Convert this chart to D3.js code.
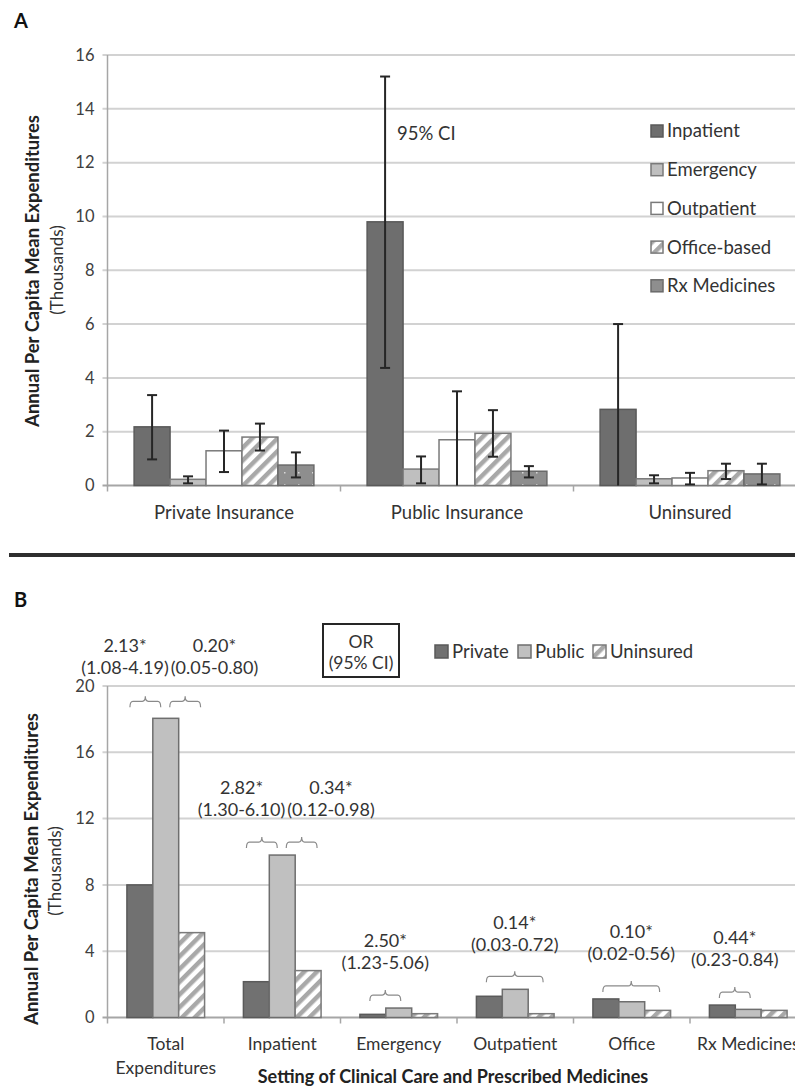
<!DOCTYPE html>
<html>
<head>
<meta charset="utf-8">
<script src="https://cdn.jsdelivr.net/npm/d3@7"></script>
<style>
  body { margin: 0; background: #fff; overflow: hidden; }
  svg { display: block; font-family: Lato, "Open Sans", sans-serif; }
</style>
</head>
<body>
<svg id="chart" width="795" height="1086"></svg>
<script>
// ---- panel A data (thousands) ----
const groupsA = ["Private Insurance", "Public Insurance", "Uninsured"];
const settingsA = ["Inpatient", "Emergency", "Outpatient", "Office-based", "Rx Medicines"];
const privateMean = [2.18, 0.23, 1.29, 1.80, 0.76];
const privateLow  = [0.97, 0.08, 0.50, 1.30, 0.30];
const privateHigh = [3.36, 0.34, 2.04, 2.30, 1.23];
const publicMean  = [9.80, 0.61, 1.70, 1.94, 0.53];
const publicLow   = [4.37, 0.08, 0.00, 1.07, 0.30];
const publicHigh  = [15.2, 1.08, 3.50, 2.80, 0.72];
const uninsMean   = [2.83, 0.25, 0.28, 0.55, 0.43];
const uninsLow    = [0.00, 0.08, 0.04, 0.24, 0.04];
const uninsHigh   = [6.00, 0.38, 0.47, 0.81, 0.81];
const ticksA = [0, 2, 4, 6, 8, 10, 12, 14, 16];

// ---- panel B data (thousands) ----
const catsB = ["Total Expenditures", "Inpatient", "Emergency", "Outpatient", "Office", "Rx Medicines"];
const seriesB = ["Private", "Public", "Uninsured"];
const privateB = [8.00, 2.16, 0.19, 1.28, 1.12, 0.75];
const publicB = [18.05, 9.80, 0.57, 1.70, 0.95, 0.49];
const uninsuredB = [5.12, 2.83, 0.23, 0.23, 0.43, 0.43];
const ticksB = [0, 4, 8, 12, 16, 20];

// odds ratio annotations
const orCategory = [0, 0, 1, 1, 2, 3, 4, 5];
const orFrom = [0, 1, 0, 1, 0, 0, 0, 0];
const orTo = [1, 2, 1, 2, 1, 2, 2, 1];
const orValue = ["2.13*", "0.20*", "2.82*", "0.34*", "2.50*", "0.14*", "0.10*", "0.44*"];
const orCI = ["(1.08-4.19)", "(0.05-0.80)", "(1.30-6.10)", "(0.12-0.98)", "(1.23-5.06)",
              "(0.03-0.72)", "(0.02-0.56)", "(0.23-0.84)"];

const svg = d3.select("#chart");
const defs = svg.append("defs");

// hatch pattern (office-based / uninsured)
const hatch = defs.append("pattern").attr("id", "hatch")
  .attr("patternUnits", "userSpaceOnUse").attr("width", 9).attr("height", 9)
  .attr("patternTransform", "rotate(45)");
hatch.append("rect").attr("width", 9).attr("height", 9).attr("fill", "#fff");
hatch.append("rect").attr("width", 4.5).attr("height", 9).attr("fill", "#a8a8a8");

// dotted pattern (rx medicines)
const dots = defs.append("pattern").attr("id", "dots")
  .attr("patternUnits", "userSpaceOnUse").attr("width", 14).attr("height", 12);
dots.append("rect").attr("width", 14).attr("height", 12).attr("fill", "#8e8e8e");
dots.append("rect").attr("x", 4).attr("y", 4).attr("width", 1.5).attr("height", 1.5).attr("fill", "#d8d8d8");

const fillA = ["#6e6e6e", "#bfbfbf", "#ffffff", "url(#hatch)", "url(#dots)"];
const strokeA = ["#5a5a5a", "#7a7a7a", "#7a7a7a", "#7a7a7a", "#6a6a6a"];
const fillB = ["#717171", "#c0c0c0", "url(#hatch)"];
const strokeB = ["#5a5a5a", "#6e6e6e", "#7a7a7a"];

const left = 107.5, right = 806.5;

function drawFrame(y, ticks, x0, zeroY, topY) {
  // gridlines
  svg.append("g").selectAll("line").data(ticks.filter(d => d > 0)).enter().append("line")
    .attr("x1", left - 5).attr("x2", 795)
    .attr("y1", d => y(d)).attr("y2", d => y(d))
    .attr("stroke", "#d2d2d2").attr("stroke-width", 2);
  // y axis
  svg.append("line").attr("x1", left).attr("x2", left).attr("y1", topY).attr("y2", zeroY + 1)
    .attr("stroke", "#a6a6a6").attr("stroke-width", 1.5);
  svg.append("g").selectAll("text").data(ticks).enter().append("text")
    .attr("x", left - 13).attr("y", d => y(d)).attr("dy", "0.35em")
    .attr("text-anchor", "end").attr("font-size", 16.5).attr("fill", "#404040")
    .text(d => d);
  // x axis
  svg.append("line").attr("x1", left - 5).attr("x2", 795).attr("y1", zeroY).attr("y2", zeroY)
    .attr("stroke", "#a6a6a6").attr("stroke-width", 2);
  const bounds = x0.domain().map(d => x0(d)).concat([right]);
  svg.append("g").selectAll("line").data(bounds).enter().append("line")
    .attr("x1", d => d).attr("x2", d => d).attr("y1", zeroY).attr("y2", zeroY + 6)
    .attr("stroke", "#a6a6a6").attr("stroke-width", 1.5);
}

// ================= PANEL A =================
const yA = d3.scaleLinear().domain([0, 16]).range([485.5, 55]);
const x0A = d3.scaleBand().domain(groupsA).range([left, right]);
const x1A = d3.scaleBand().domain(settingsA).range([0, x0A.bandwidth()]).paddingOuter(0.74);

drawFrame(yA, ticksA, x0A, yA(0), yA(16));

const meansA = [privateMean, publicMean, uninsMean];
const lowsA = [privateLow, publicLow, uninsLow];
const highsA = [privateHigh, publicHigh, uninsHigh];
const rowsA = [];
groupsA.forEach((g, gi) => settingsA.forEach((s, si) => rowsA.push({
  g, s, si, v: meansA[gi][si], lo: lowsA[gi][si], hi: highsA[gi][si]
})));

svg.append("g").selectAll("rect").data(rowsA).enter().append("rect")
  .attr("x", d => x0A(d.g) + x1A(d.s))
  .attr("y", d => yA(d.v))
  .attr("width", x1A.bandwidth())
  .attr("height", d => yA(0) - yA(d.v))
  .attr("fill", d => fillA[d.si]).attr("stroke", d => strokeA[d.si]).attr("stroke-width", 1.5);

const err = svg.append("g").attr("stroke", "#262626").attr("stroke-width", 2);
rowsA.forEach(d => {
  const cx = x0A(d.g) + x1A(d.s) + x1A.bandwidth() / 2;
  err.append("line").attr("x1", cx).attr("x2", cx).attr("y1", yA(d.hi)).attr("y2", yA(d.lo));
  err.append("line").attr("x1", cx - 5).attr("x2", cx + 5).attr("y1", yA(d.hi)).attr("y2", yA(d.hi));
  if (d.lo > 0) err.append("line").attr("x1", cx - 5).attr("x2", cx + 5).attr("y1", yA(d.lo)).attr("y2", yA(d.lo));
});

svg.append("g").selectAll("text").data(groupsA).enter().append("text")
  .attr("x", d => x0A(d) + x0A.bandwidth() / 2).attr("y", yA(0) + 27).attr("dy", "0.35em")
  .attr("text-anchor", "middle").attr("font-size", 18.5).attr("fill", "#333")
  .text(d => d);

svg.append("text").attr("x", 397).attr("y", 134).attr("dy", "0.35em")
  .attr("font-size", 18.5).attr("fill", "#333").text("95% CI");

// legend A
const legA = svg.append("g");
settingsA.forEach((s, i) => {
  const cy = 131 + i * 38.7;
  legA.append("rect").attr("x", 651).attr("y", cy - 6).attr("width", 12).attr("height", 12)
    .attr("fill", fillA[i]).attr("stroke", strokeA[i]).attr("stroke-width", 1.5);
  legA.append("text").attr("x", 667).attr("y", cy).attr("dy", "0.35em")
    .attr("font-size", 18.5).attr("fill", "#333").text(s);
});

svg.append("text").attr("transform", "translate(33,271) rotate(-90)").attr("dy", "0.35em")
  .attr("text-anchor", "middle").attr("font-size", 18.5).attr("font-weight", "bold").attr("fill", "#222")
  .text("Annual Per Capita Mean Expenditures");
svg.append("text").attr("transform", "translate(57,270) rotate(-90)").attr("dy", "0.35em")
  .attr("text-anchor", "middle").attr("font-size", 17).attr("fill", "#333")
  .text("(Thousands)");

svg.append("text").attr("x", 14).attr("y", 28).attr("font-size", 20).attr("font-weight", "bold")
  .attr("fill", "#111").text("A");

// separator
svg.append("line").attr("x1", 9).attr("x2", 795).attr("y1", 555).attr("y2", 555)
  .attr("stroke", "#2e2e2e").attr("stroke-width", 4);

// ================= PANEL B =================
const yB = d3.scaleLinear().domain([0, 20]).range([1017.5, 686]);
const x0B = d3.scaleBand().domain(catsB).range([left, right]);
const x1B = d3.scaleBand().domain(seriesB).range([0, x0B.bandwidth()]).paddingOuter(0.75);

drawFrame(yB, ticksB, x0B, yB(0), yB(20));

const valsB = [privateB, publicB, uninsuredB];
const rowsB = [];
catsB.forEach((c, ci) => seriesB.forEach((s, si) => rowsB.push({ c, s, si, v: valsB[si][ci] })));

svg.append("g").selectAll("rect").data(rowsB).enter().append("rect")
  .attr("x", d => x0B(d.c) + x1B(d.s))
  .attr("y", d => yB(d.v))
  .attr("width", x1B.bandwidth())
  .attr("height", d => yB(0) - yB(d.v))
  .attr("fill", d => fillB[d.si]).attr("stroke", d => strokeB[d.si]).attr("stroke-width", 1.5);

// brackets + OR text
const ann = svg.append("g");
const bw = x1B.bandwidth();
orValue.forEach((val, i) => {
  const c = catsB[orCategory[i]];
  const a = orFrom[i], b = orTo[i];
  const pair = orCategory.filter(k => k === orCategory[i]).length > 1;
  let x1, x2;
  if (pair && a === 0) { x1 = x0B(c) + x1B(seriesB[0]) + 3; x2 = x0B(c) + x1B(seriesB[1]) + bw / 2 - 5; }
  else if (pair) { x1 = x0B(c) + x1B(seriesB[1]) + bw / 2 + 4; x2 = x0B(c) + x1B(seriesB[2]) + bw - 4; }
  else { x1 = x0B(c) + x1B(seriesB[a]) + bw / 2 - 3; x2 = x0B(c) + x1B(seriesB[b]) + bw / 2 + 2; }
  let top = 0;
  for (let k = a; k <= b; k++) top = Math.max(top, valsB[k][orCategory[i]]);
  const ly = yB(top) - (top > 15 ? 17 : 13);
  const xm = (x1 + x2) / 2;
  ann.append("path")
    .attr("d", `M${x1},${ly + 6} Q${x1},${ly} ${x1 + 3},${ly} L${xm - 3},${ly} Q${xm},${ly} ${xm},${ly - 5}` +
               ` Q${xm},${ly} ${xm + 3},${ly} L${x2 - 3},${ly} Q${x2},${ly} ${x2},${ly + 6}`)
    .attr("fill", "none").attr("stroke", "#8a8a8a").attr("stroke-width", 1.2);

  const cy2 = ly - (top > 15 ? 34 : 32), cy1 = cy2 - 22;
  const pc = x0B(c) + x1B(seriesB[1]) + bw / 2;
  const t2 = ann.append("text").attr("y", cy2).attr("dy", "0.35em")
    .attr("font-size", 18).attr("fill", "#333").text(orCI[i]);
  let lx;
  if (pair && a === 0) {
    t2.attr("x", pc + 3).attr("text-anchor", "end");
    const w = t2.node().getComputedTextLength();
    lx = pc + 3 - w / 2;
  } else if (pair) {
    t2.attr("x", pc + 5).attr("text-anchor", "start");
    const w = t2.node().getComputedTextLength();
    lx = pc + 5 + w / 2;
  } else {
    t2.attr("x", xm).attr("text-anchor", "middle");
    lx = xm;
  }
  ann.append("text").attr("x", lx).attr("y", cy1).attr("dy", "0.35em")
    .attr("text-anchor", "middle").attr("font-size", 18).attr("fill", "#333").text(val);
});

// x labels B
svg.append("g").selectAll("text").data(catsB).enter().append("text")
  .attr("x", d => x0B(d) + x0B.bandwidth() / 2).attr("y", yB(0) + 26)
  .attr("text-anchor", "middle").attr("font-size", 17.5).attr("fill", "#333")
  .each(function (d) {
    const words = d === "Total Expenditures" ? ["Total", "Expenditures"] : [d];
    words.forEach((w, k) => d3.select(this).append("tspan")
      .attr("x", x0B(d) + x0B.bandwidth() / 2).attr("dy", k === 0 ? "0.35em" : "1.4em").text(w));
  });

svg.append("text").attr("x", 453).attr("y", 1083)
  .attr("text-anchor", "middle").attr("font-size", 18).attr("font-weight", "bold").attr("fill", "#222")
  .text("Setting of Clinical Care and Prescribed Medicines");

// OR box
svg.append("rect").attr("x", 323).attr("y", 624).attr("width", 76).attr("height", 53)
  .attr("fill", "#fff").attr("stroke", "#262626").attr("stroke-width", 2);
svg.append("text").attr("x", 361).attr("y", 642).attr("dy", "0.35em").attr("text-anchor", "middle")
  .attr("font-size", 17.5).attr("fill", "#333").text("OR");
svg.append("text").attr("x", 361).attr("y", 663).attr("dy", "0.35em").attr("text-anchor", "middle")
  .attr("font-size", 17.5).attr("fill", "#333").text("(95% CI)");

// legend B
const legBx = [435, 518, 593];
seriesB.forEach((s, i) => {
  svg.append("rect").attr("x", legBx[i]).attr("y", 645).attr("width", 13).attr("height", 13)
    .attr("fill", fillB[i]).attr("stroke", strokeB[i]).attr("stroke-width", 1.5);
  svg.append("text").attr("x", legBx[i] + 17).attr("y", 652).attr("dy", "0.35em")
    .attr("font-size", 18.5).attr("fill", "#333").text(s);
});

svg.append("text").attr("transform", "translate(32,869) rotate(-90)").attr("dy", "0.35em")
  .attr("text-anchor", "middle").attr("font-size", 18.5).attr("font-weight", "bold").attr("fill", "#222")
  .text("Annual Per Capita Mean Expenditures");
svg.append("text").attr("transform", "translate(55,871) rotate(-90)").attr("dy", "0.35em")
  .attr("text-anchor", "middle").attr("font-size", 17).attr("fill", "#333")
  .text("(Thousands)");

svg.append("text").attr("x", 14).attr("y", 607).attr("font-size", 20).attr("font-weight", "bold")
  .attr("fill", "#111").text("B");
</script>
</body>
</html>
